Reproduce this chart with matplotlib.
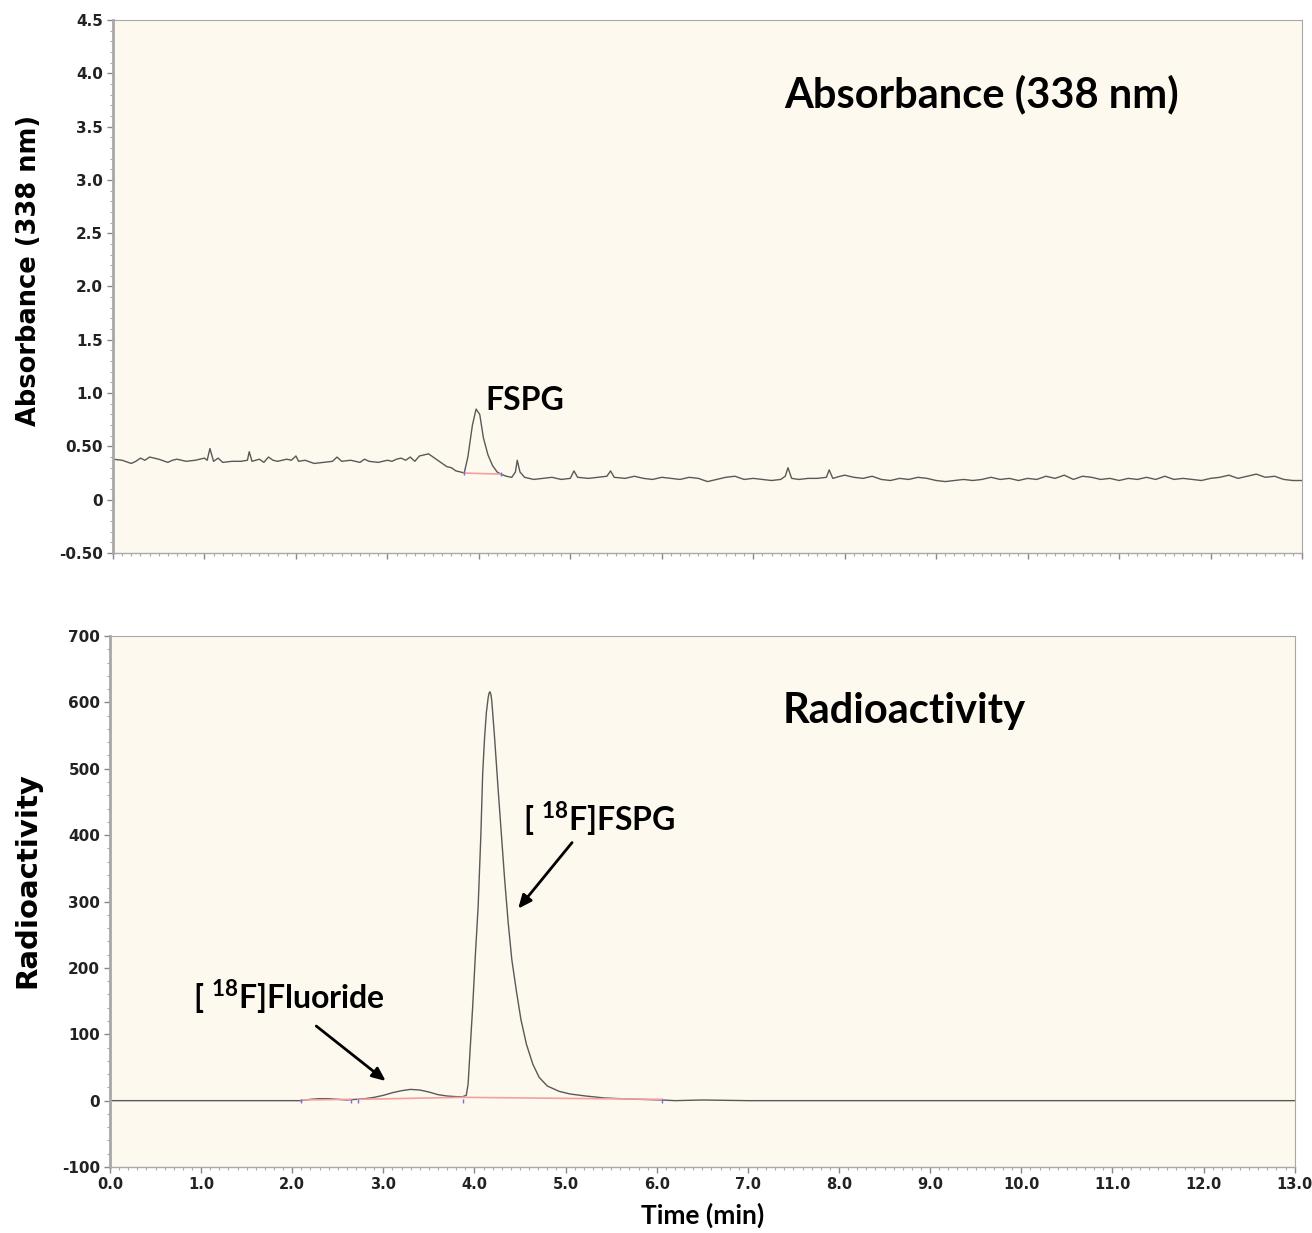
"""
HPLC chromatogram: UV absorbance (338 nm) and radioactivity traces of [18F]FSPG
"""

import matplotlib.pyplot as plt
import numpy as np
from matplotlib.ticker import MultipleLocator, FixedLocator, FormatStrFormatter

plt.rcParams["axes.unicode_minus"] = False
plt.rcParams["mathtext.fontset"] = "custom"
plt.rcParams["mathtext.rm"] = "Lato:bold"
plt.rcParams["mathtext.bf"] = "Lato:bold"

# UV trace (time in min, absorbance)
uv_time = [
    0.0, 0.1, 0.2, 0.25, 0.3, 0.35, 0.4, 0.5, 0.6, 0.65, 0.7, 0.8, 0.9, 1.0,
    1.03, 1.06, 1.1, 1.15, 1.2, 1.3, 1.4, 1.47, 1.49, 1.52, 1.6, 1.65, 1.7,
    1.75, 1.8, 1.9, 1.95, 2.0, 2.03, 2.1, 2.2, 2.3, 2.4, 2.45, 2.5, 2.6, 2.7,
    2.75, 2.8, 2.9, 3.0, 3.05, 3.1, 3.15, 3.2, 3.25, 3.3, 3.35, 3.4, 3.45,
    3.5, 3.55, 3.6, 3.65, 3.7, 3.75, 3.8, 3.84, 3.88, 3.93, 3.97, 4.01, 4.05,
    4.1, 4.15, 4.2, 4.24, 4.3, 4.36, 4.4, 4.42, 4.45, 4.5, 4.6, 4.7, 4.8,
    4.9, 5.0, 5.04, 5.08, 5.2, 5.3, 5.4, 5.44, 5.48, 5.6, 5.7, 5.8, 5.9, 6.0,
    6.1, 6.2, 6.3, 6.4, 6.5, 6.6, 6.7, 6.8, 6.9, 7.0, 7.1, 7.2, 7.3, 7.35,
    7.38, 7.42, 7.5, 7.6, 7.7, 7.8, 7.83, 7.87, 7.95, 8.0, 8.1, 8.2, 8.3,
    8.4, 8.5, 8.6, 8.7, 8.8, 8.9, 9.0, 9.1, 9.2, 9.3, 9.4, 9.5, 9.6, 9.7,
    9.8, 9.9, 10.0, 10.1, 10.2, 10.3, 10.4, 10.5, 10.6, 10.7, 10.8, 10.9,
    11.0, 11.1, 11.2, 11.3, 11.4, 11.5, 11.6, 11.7, 11.8, 11.9, 12.0, 12.1,
    12.2, 12.3, 12.4, 12.5, 12.6, 12.7, 12.8, 12.9, 13.0,
]
uv_abs = [
    0.38, 0.37, 0.34, 0.36, 0.39, 0.37, 0.40, 0.38, 0.35, 0.37, 0.38, 0.36, 0.37, 0.39,
    0.37, 0.48, 0.36, 0.39, 0.35, 0.36, 0.36, 0.37, 0.45, 0.36, 0.38, 0.35, 0.40,
    0.37, 0.36, 0.38, 0.37, 0.41, 0.36, 0.37, 0.34, 0.35, 0.36, 0.40, 0.36, 0.37, 0.35,
    0.38, 0.36, 0.35, 0.37, 0.36, 0.38, 0.39, 0.37, 0.40, 0.36, 0.41, 0.42, 0.43,
    0.40, 0.37, 0.34, 0.31, 0.30, 0.27, 0.26, 0.25, 0.40, 0.70, 0.85, 0.80, 0.58,
    0.42, 0.32, 0.26, 0.24, 0.22, 0.21, 0.26, 0.37, 0.26, 0.21, 0.19, 0.20, 0.21,
    0.19, 0.20, 0.27, 0.21, 0.20, 0.21, 0.22, 0.27, 0.21, 0.20, 0.22, 0.20, 0.19, 0.21,
    0.20, 0.19, 0.21, 0.20, 0.17, 0.19, 0.21, 0.22, 0.19, 0.20, 0.19, 0.18, 0.19, 0.22,
    0.30, 0.20, 0.19, 0.20, 0.20, 0.21, 0.28, 0.20, 0.22, 0.23, 0.21, 0.20, 0.22,
    0.19, 0.18, 0.20, 0.19, 0.21, 0.20, 0.18, 0.17, 0.18, 0.19, 0.18, 0.19, 0.21, 0.19,
    0.20, 0.18, 0.20, 0.19, 0.22, 0.20, 0.23, 0.19, 0.22, 0.21, 0.19, 0.20,
    0.18, 0.20, 0.19, 0.21, 0.19, 0.22, 0.19, 0.20, 0.19, 0.18, 0.20, 0.21,
    0.23, 0.20, 0.22, 0.24, 0.21, 0.22, 0.19, 0.18, 0.18,
]
uv_base_time = [3.84, 4.24]
uv_base_abs = [0.25, 0.24]

# radioactivity trace
rad_time = [
    0.0, 2.1, 2.2, 2.3, 2.4, 2.5, 2.6, 2.7, 2.8, 2.9, 3.0, 3.1, 3.2, 3.3, 3.4,
    3.5, 3.6, 3.7, 3.8, 3.87, 3.91, 3.93, 3.96, 3.98, 4.01, 4.04, 4.07, 4.09,
    4.11, 4.13, 4.15, 4.16, 4.17, 4.18, 4.19, 4.22, 4.24, 4.26, 4.28, 4.30,
    4.33, 4.37, 4.41, 4.46, 4.51, 4.57, 4.64, 4.71, 4.8, 4.93, 5.05, 5.22,
    5.43, 5.6, 5.8, 6.06, 6.2, 6.5, 7.0, 13.0,
]
rad_counts = [
    0, 0, 2, 3, 3, 2, 1, 2, 3, 5, 8, 12, 15, 17, 16,
    13, 9, 7, 6, 6, 8, 25, 95, 141, 220, 292, 400, 493,
    545, 584, 607, 614, 616, 612, 602, 548, 508, 468, 430, 392,
    335, 268, 212, 165, 122, 85, 55, 35, 22, 14, 10, 7,
    4, 3, 2, 1, 0, 1, 0, 0,
]
rad_base_segments = [
    ([2.1, 2.65], [1, 2]),
    ([2.72, 3.87], [2, 5]),
    ([3.87, 6.06], [5, 2]),
]
rad_marks = [2.1, 2.65, 2.72, 3.87, 6.06]

uv_ticks = [-0.5, 0, 0.5, 1.0, 1.5, 2.0, 2.5, 3.0, 3.5, 4.0, 4.5]
uv_ticklabels = ["-0.50", "0", "0.50", "1.0", "1.5", "2.0", "2.5", "3.0", "3.5", "4.0", "4.5"]
rad_ticks = [-100, 0, 100, 200, 300, 400, 500, 600, 700]
time_ticks = np.arange(0, 14, 1.0)

bg = "#fdf9ee"
trace_color = "#595959"
base_color = "#f4a0a0"
spine_color = "#a8a8a8"
label_font = "Lato"


def style_axes(ax):
    ax.set_facecolor(bg)
    for side in ["top", "right", "bottom", "left"]:
        ax.spines[side].set_color(spine_color)
    ax.spines["left"].set_linewidth(2.0)
    ax.spines["bottom"].set_linewidth(1.0)
    ax.spines["top"].set_linewidth(0.8)
    ax.spines["right"].set_linewidth(0.8)
    ax.set_xlim(0, 13)
    ax.xaxis.set_major_locator(FixedLocator(time_ticks))
    ax.xaxis.set_major_formatter(FormatStrFormatter("%.1f"))
    ax.xaxis.set_minor_locator(MultipleLocator(0.1))
    ax.tick_params(axis="both", which="major", length=4, width=1, color="#888888",
                   direction="out", labelsize=11, pad=3, labelcolor="#222222")
    ax.tick_params(axis="x", labelsize=10.5)
    ax.tick_params(axis="both", which="minor", length=2, width=0.8, color="#aaaaaa",
                   direction="out")


fig = plt.figure(figsize=(13.12, 12.33), dpi=100)
ax1 = fig.add_axes([0.0861, 0.5515, 0.9063, 0.4323])
ax2 = fig.add_axes([0.0838, 0.0535, 0.9030, 0.4307])

# top panel - UV
ax1.plot(uv_time, uv_abs, color=trace_color, lw=1.0)
ax1.plot(uv_base_time, uv_base_abs, color=base_color, lw=1.2)
ax1.plot(uv_base_time, uv_base_abs, ls="none", marker="|", ms=3, color="#7070e0")
ax1.set_ylim(-0.5, 4.5)
style_axes(ax1)
ax1.set_yticks(uv_ticks)
ax1.set_yticklabels(uv_ticklabels)
ax1.yaxis.set_minor_locator(MultipleLocator(0.1))
ax1.tick_params(axis="x", labelbottom=False)
ax1.set_ylabel("Absorbance (338 nm)", fontsize=18.5, fontweight="bold")
ax1.yaxis.set_label_coords(-0.060, 0.53)
ax1.text(7.34, 3.8, "Absorbance (338 nm)", fontsize=30, fontweight="bold",
         family=label_font, va="center")
ax1.text(4.07, 0.93, "FSPG", fontsize=23, fontweight="bold", family=label_font,
         va="center")

# bottom panel - radioactivity
ax2.plot(rad_time, rad_counts, color=trace_color, lw=1.0)
for seg_t, seg_v in rad_base_segments:
    ax2.plot(seg_t, seg_v, color=base_color, lw=1.2)
ax2.plot(rad_marks, [0] * len(rad_marks), ls="none", marker="|", ms=3, color="#7070e0")
ax2.set_ylim(-100, 700)
style_axes(ax2)
ax2.set_yticks(rad_ticks)
ax2.yaxis.set_minor_locator(MultipleLocator(20))
ax2.set_ylabel("Radioactivity", fontsize=21, fontweight="bold")
ax2.yaxis.set_label_coords(-0.058, 0.54)
ax2.set_xlabel("Time (min)", fontsize=19, fontweight="bold", family=label_font,
               labelpad=8)
ax2.text(7.38, 587, "Radioactivity", fontsize=30, fontweight="bold",
         family=label_font, va="center")
ax2.text(4.53, 425, r"[ $^{18}$F]FSPG", fontsize=23, fontweight="bold",
         family=label_font, va="center")
ax2.text(0.91, 156, r"[ $^{18}$F]Fluoride", fontsize=23, fontweight="bold",
         family=label_font, va="center")
arrow = dict(arrowstyle="-|>,head_length=0.8,head_width=0.35", color="black", lw=2)
ax2.annotate("", xy=(4.46, 286), xytext=(5.09, 392), arrowprops=arrow)
ax2.annotate("", xy=(3.05, 27), xytext=(2.24, 115), arrowprops=arrow)

for ax in (ax1, ax2):
    for lab in ax.get_xticklabels() + ax.get_yticklabels():
        lab.set_fontweight("bold")

fig.savefig("out.png", dpi=100, facecolor="white")
